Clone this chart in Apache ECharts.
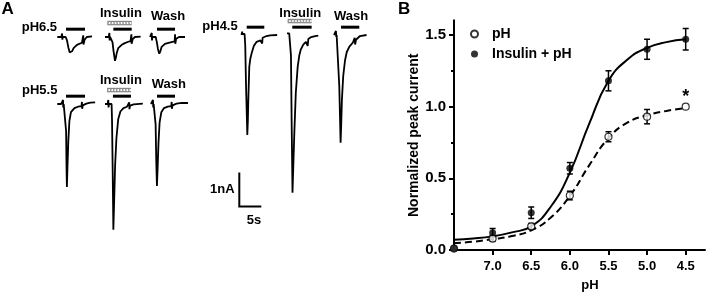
<!DOCTYPE html>
<html>
<head>
<meta charset="utf-8">
<script src="https://cdn.jsdelivr.net/npm/echarts@6/dist/echarts.min.js"></script>
<style>
html,body{margin:0;padding:0;background:#fff}
#chart{width:707px;height:297px}
</style>
</head>
<body>
<div id="chart"></div>
<script>
// ---- panel B: dose response ----
var phTicks = [7.0, 6.5, 6.0, 5.5, 5.0, 4.5];
var phLevels = [7.5, 7.0, 6.5, 6.0, 5.5, 5.0, 4.5];
var phMean  = [0.01, 0.08, 0.165, 0.38, 0.79, 0.93, 1.0];
var phSem   = [0, 0.02, 0.02, 0.03, 0.035, 0.05, 0];
var insMean = [0.01, 0.12, 0.26, 0.57, 1.18, 1.40, 1.47];
var insSem  = [0, 0.03, 0.04, 0.04, 0.07, 0.07, 0.075];
// fitted curves
var fitPh = [7.5, 7.25, 7.0, 6.75, 6.5, 6.25, 6.0, 5.75, 5.5, 5.25, 5.0, 4.75, 4.5];
var fitPhCurve  = [0.047, 0.058, 0.076, 0.097, 0.137, 0.225, 0.377, 0.59, 0.78, 0.89, 0.94, 0.97, 0.99];
var fitInsCurve = [0.072, 0.08, 0.095, 0.123, 0.165, 0.30, 0.54, 0.88, 1.18, 1.33, 1.41, 1.45, 1.47];

// ---- panel A: current traces [time s, current nA] ----
var r65Ctrl = [[0,0],[0.9,0],[1.1,0.1],[1.15,-0.08],[1.25,0],[1.9,0],[2.2,-0.1],[2.5,-0.3],[2.8,-0.45],[3.07,-0.48],[3.35,-0.42],[3.7,-0.33],[4.4,-0.24],[5.0,-0.2],[5.6,-0.17],[5.9,0.05],[5.95,-0.22],[6.2,-0.08],[6.7,0],[7.9,0.02]];
var r65Ins  = [[0,0],[0.85,0],[1.0,0.12],[1.05,-0.1],[1.15,0],[1.5,0],[1.7,-0.15],[1.95,-0.42],[2.27,-0.7],[2.45,-0.62],[2.65,-0.48],[3.0,-0.33],[3.8,-0.23],[4.5,-0.18],[5.3,-0.14],[5.8,-0.12],[6.0,0.08],[6.05,-0.2],[6.3,-0.06],[6.8,0],[8.1,0.01]];
var r65Wash = [[0,0],[0.3,0],[0.4,0.12],[0.45,-0.1],[0.55,0],[1.3,0],[1.55,-0.15],[1.8,-0.35],[2.1,-0.49],[2.35,-0.42],[2.65,-0.29],[3.4,-0.2],[4.2,-0.17],[4.9,-0.15],[5.6,-0.13],[5.7,0.08],[5.75,-0.2],[5.95,-0.05],[6.6,0],[7.95,0]];
var r55Ctrl = [[0,0],[0.9,0],[1.25,0.02],[1.3,0.12],[1.35,-0.1],[1.45,0],[1.9,0],[2.0,-0.8],[2.1,-1.9],[2.18,-2.44],[2.3,-1.9],[2.5,-1.1],[2.75,-0.5],[3.1,-0.24],[3.9,-0.12],[4.7,-0.08],[5.5,-0.06],[5.6,0.06],[5.65,-0.14],[5.8,-0.04],[6.6,0.01],[7.5,0.04],[8.6,0.05]];
var r55Ins  = [[0,0],[0.6,0],[0.75,0.12],[0.8,-0.1],[0.9,0],[1.5,0],[1.6,-0.5],[1.75,-2.0],[1.9,-3.7],[2.05,-3.0],[2.3,-1.8],[2.6,-1.0],[3.0,-0.45],[3.5,-0.22],[4.2,-0.12],[5.0,-0.08],[5.4,-0.06],[5.5,0.05],[5.55,-0.15],[5.7,-0.05],[6.5,-0.01],[8.6,0.01]];
var r55Wash = [[0,0],[0.35,0],[0.45,0.12],[0.5,-0.1],[0.6,0],[0.95,0],[1.05,-0.6],[1.2,-1.7],[1.35,-2.41],[1.5,-1.9],[1.7,-1.15],[1.95,-0.55],[2.35,-0.24],[2.95,-0.12],[3.8,-0.08],[4.6,-0.06],[4.7,0.06],[4.75,-0.14],[4.9,-0.04],[5.8,0.01],[7.0,0.03],[8.4,0.03]];
var r45Ctrl = [[0,0],[0.15,0.1],[0.2,0.03],[0.7,0.03],[0.85,-0.3],[1.05,-1.6],[1.32,-2.94],[1.45,-2.5],[1.55,-1.9],[1.77,-0.93],[2.0,-0.7],[2.3,-0.54],[2.8,-0.32],[3.45,-0.2],[4.3,-0.16],[4.6,-0.15],[4.7,-0.25],[4.8,-0.08],[5.0,-0.12],[5.7,-0.03],[6.5,-0.01],[8.1,0]];
var r45Ins  = [[0,0.05],[0.1,0.08],[0.5,0.05],[0.75,0.02],[0.9,-0.6],[1.05,-2.5],[1.25,-4.64],[1.4,-4.0],[1.66,-2.9],[2.0,-1.7],[2.43,-0.93],[2.8,-0.6],[3.1,-0.44],[3.7,-0.28],[4.3,-0.2],[4.6,-0.19],[4.7,-0.32],[4.85,-0.12],[5.1,-0.15],[5.5,-0.06],[6.4,-0.03],[7.1,-0.02]];
var r45Wash = [[0,0],[0.35,0.02],[0.45,0.12],[0.5,-0.06],[0.6,0],[0.95,-0.05],[1.2,-1.5],[1.5,-3.17],[1.65,-2.6],[1.8,-1.9],[2.1,-1.2],[2.5,-0.75],[2.9,-0.5],[3.5,-0.34],[4.3,-0.22],[4.6,-0.2],[4.7,-0.08],[4.8,-0.28],[5.0,-0.14],[5.9,-0.03],[7.4,0]];

// application windows (s from trace start)
var win65Ctrl = [1.98, 6.3],  win65Ins = [1.9, 6.07], ins65 = [0.52, 6.07], win65Wash = [1.59, 5.68];
var win55Ctrl = [1.98, 6.3],  win55Ins = [1.8, 5.9],  ins55 = [0.45, 5.9],  win55Wash = [1.36, 5.45];
var win45Ctrl = [1.18, 5.18], win45Ins = [1.2, 5.6],  ins45 = [0.16, 5.6],  win45Wash = [1.6, 5.75];

var scaleNA = 1, scaleS = 5;

// ---- layout ----
var FONT = '"Liberation Sans", Arial, sans-serif';
var PX_S = 4.4, PX_NA = 34;
var T_MAX = 10, I_MIN = -5, I_MAX = 0.6;
var BAR_Y = 0.23, INS_Y = 0.41;

var traces = [
  {data: r65Ctrl, left: 57.3, base: 37, win: win65Ctrl},
  {data: r65Ins,  left: 105,  base: 37, win: win65Ins, ins: ins65},
  {data: r65Wash, left: 150,  base: 37, win: win65Wash},
  {data: r55Ctrl, left: 57.3, base: 104, win: win55Ctrl},
  {data: r55Ins,  left: 105,  base: 104, win: win55Ins, ins: ins55},
  {data: r55Wash, left: 151,  base: 104, win: win55Wash},
  {data: r45Ctrl, left: 241.5, base: 35, win: win45Ctrl},
  {data: r45Ins,  left: 287,  base: 35, win: win45Ins, ins: ins45},
  {data: r45Wash, left: 334,  base: 35, win: win45Wash}
];

var grids = [], xAxes = [], yAxes = [], series = [];

function hiddenAxes(i, ymin, ymax) {
  xAxes.push({gridIndex: i, type: 'value', min: 0, max: T_MAX, show: false});
  yAxes.push({gridIndex: i, type: 'value', min: ymin, max: ymax, show: false});
}

traces.forEach(function (tr, i) {
  grids.push({left: tr.left, top: tr.base - I_MAX * PX_NA, width: T_MAX * PX_S, height: (I_MAX - I_MIN) * PX_NA});
  hiddenAxes(i, I_MIN, I_MAX);
  series.push({type: 'line', xAxisIndex: i, yAxisIndex: i, data: tr.data, showSymbol: false, clip: false,
    lineStyle: {color: '#000', width: 1.8}, z: 3, silent: true});
  series.push({type: 'line', xAxisIndex: i, yAxisIndex: i, data: [[tr.win[0], BAR_Y], [tr.win[1], BAR_Y]],
    showSymbol: false, clip: false, lineStyle: {color: '#000', width: 3}, silent: true});
  if (tr.ins) {
    var insLine = [[tr.ins[0], INS_Y], [tr.ins[1], INS_Y]];
    series.push({type: 'line', xAxisIndex: i, yAxisIndex: i, data: insLine, showSymbol: false, clip: false,
      lineStyle: {color: '#888', width: 4.5, cap: 'butt'}, silent: true});
    series.push({type: 'line', xAxisIndex: i, yAxisIndex: i, data: insLine, showSymbol: false, clip: false,
      lineStyle: {color: '#fff', width: 2, cap: 'butt'}, silent: true});
    series.push({type: 'line', xAxisIndex: i, yAxisIndex: i, data: insLine, showSymbol: false, clip: false,
      lineStyle: {color: '#777', width: 1.5, type: [1.5, 1.5], cap: 'butt'}, silent: true});
  }
});

// scale bar grid (same px per s / px per nA as the traces)
var sIdx = traces.length;
var S_MIN = -0.5, S_MAX = 1.2;
grids.push({left: 239.3, top: 206.5 - S_MAX * PX_NA, width: T_MAX * PX_S, height: (S_MAX - S_MIN) * PX_NA});
hiddenAxes(sIdx, S_MIN, S_MAX);
series.push({type: 'line', xAxisIndex: sIdx, yAxisIndex: sIdx, data: [[0, scaleNA], [0, 0], [scaleS, 0]],
  showSymbol: false, clip: false, lineStyle: {color: '#000', width: 2, join: 'miter'}, silent: true});

// panel B grid
var bIdx = sIdx + 1;
grids.push({left: 454, right: 2, top: 20.6, bottom: 46});
var axisColor = '#000';
xAxes.push({
  gridIndex: bIdx, type: 'value', min: 4.25, max: 7.5, inverse: true,
  name: 'pH', nameLocation: 'middle', nameGap: 29,
  nameTextStyle: {fontFamily: FONT, fontWeight: 'bold', fontSize: 13, color: '#000', padding: [0, 0, 0, 21]},
  axisLine: {lineStyle: {color: axisColor, width: 2}},
  axisTick: {customValues: phTicks, length: 5, lineStyle: {color: axisColor, width: 2}},
  axisLabel: {customValues: phTicks, margin: 10, fontFamily: FONT, fontWeight: 'bold', fontSize: 13, color: '#000',
    formatter: function (v) { return v.toFixed(1); }},
  splitLine: {show: false}
});
yAxes.push({
  gridIndex: bIdx, type: 'value', min: 0, max: 1.6,
  name: 'Normalized peak current', nameLocation: 'middle', nameGap: 28,
  nameTextStyle: {fontFamily: FONT, fontWeight: 'bold', fontSize: 14, color: '#000'},
  axisLine: {lineStyle: {color: axisColor, width: 2}},
  axisTick: {customValues: [0, 0.5, 1.0, 1.5], length: 5, lineStyle: {color: axisColor, width: 2}},
  axisLabel: {customValues: [0, 0.5, 1.0, 1.5], margin: 8, fontFamily: FONT, fontWeight: 'bold', fontSize: 15, color: '#000',
    formatter: function (v) { return v.toFixed(1); }},
  splitLine: {show: false}
});
// minor ticks
yAxes.push({
  gridIndex: bIdx, type: 'value', min: 0, max: 1.6, position: 'left',
  axisLine: {lineStyle: {color: axisColor, width: 2}},
  axisTick: {customValues: [0.25, 0.75, 1.25], length: 3, lineStyle: {color: axisColor, width: 2}},
  axisLabel: {show: false}, splitLine: {show: false}
});

function zip(a, b) { return a.map(function (v, i) { return [v, b[i]]; }); }
function errData(mean, sem) {
  var out = [];
  phLevels.forEach(function (x, i) { if (sem[i] > 0) out.push([x, mean[i] - sem[i], mean[i] + sem[i]]); });
  return out;
}
function renderErr(params, api) {
  var x = api.value(0);
  var lo = api.coord([x, api.value(1)]), hi = api.coord([x, api.value(2)]);
  var w = 3, st = {stroke: '#000', lineWidth: 1.5};
  return {type: 'group', children: [
    {type: 'line', shape: {x1: lo[0], y1: lo[1], x2: hi[0], y2: hi[1]}, style: st},
    {type: 'line', shape: {x1: lo[0] - w, y1: lo[1], x2: lo[0] + w, y2: lo[1]}, style: st},
    {type: 'line', shape: {x1: hi[0] - w, y1: hi[1], x2: hi[0] + w, y2: hi[1]}, style: st}
  ]};
}

series.push(
  {type: 'line', xAxisIndex: bIdx, yAxisIndex: bIdx, data: zip(fitPh, fitInsCurve), smooth: true, showSymbol: false,
    lineStyle: {color: '#000', width: 2}, z: 3, silent: true},
  {type: 'line', xAxisIndex: bIdx, yAxisIndex: bIdx, data: zip(fitPh, fitPhCurve), smooth: true, showSymbol: false,
    lineStyle: {color: '#000', width: 2, type: [7, 4]}, z: 3, silent: true},
  {type: 'custom', xAxisIndex: bIdx, yAxisIndex: bIdx, data: errData(phMean, phSem), renderItem: renderErr,
    encode: {x: 0, y: [1, 2]}, z: 4, silent: true},
  {type: 'custom', xAxisIndex: bIdx, yAxisIndex: bIdx, data: errData(insMean, insSem), renderItem: renderErr,
    encode: {x: 0, y: [1, 2]}, z: 4, silent: true},
  {name: 'pH', type: 'scatter', xAxisIndex: bIdx, yAxisIndex: bIdx, data: zip(phLevels, phMean),
    symbol: 'circle', symbolSize: 7, clip: false, z: 5,
    itemStyle: {color: '#fff', borderColor: '#000', borderWidth: 1.2},
    markPoint: {symbol: 'circle', symbolSize: 0, silent: true,
      data: [{coord: [4.5, 1.0]}],
      label: {show: true, formatter: '*', offset: [0, -10], fontFamily: FONT, fontWeight: 'bold', fontSize: 18, color: '#000'}}},
  {name: 'Insulin + pH', type: 'scatter', xAxisIndex: bIdx, yAxisIndex: bIdx, data: zip(phLevels, insMean),
    symbol: 'circle', symbolSize: 7, clip: false, z: 6, itemStyle: {color: '#000'}}
);

var labels = [
  ['A', 1.5, 9.5, 17], ['B', 398, 9, 17],
  ['pH6.5', 21.7, 27, 13], ['Insulin', 100, 13.5, 13], ['Wash', 151, 16.7, 13],
  ['pH4.5', 202.3, 26, 13], ['Insulin', 279.3, 13, 13], ['Wash', 334, 16.7, 13],
  ['pH5.5', 22, 90.5, 13], ['Insulin', 100, 80.2, 13], ['Wash', 151.7, 84.7, 13],
  ['1nA', 210, 189, 13], ['5s', 246.7, 220, 13]
];

var chart = echarts.init(document.getElementById('chart'), null, {renderer: 'canvas'});
chart.setOption({
  animation: false,
  backgroundColor: '#fff',
  grid: grids,
  xAxis: xAxes,
  yAxis: yAxes,
  legend: {
    data: ['pH', 'Insulin + pH'], orient: 'vertical', left: 465, top: 22,
    itemWidth: 7, itemHeight: 7, itemGap: 6, selectedMode: false,
    textStyle: {fontFamily: FONT, fontWeight: 'bold', fontSize: 14, color: '#000', padding: [0, 0, 0, 9]}
  },
  graphic: labels.map(function (l) {
    return {type: 'text', x: l[1], y: l[2], silent: true,
      style: {text: l[0], fill: '#000', fontFamily: FONT, fontWeight: 'bold', fontSize: l[3], verticalAlign: 'middle'}};
  }),
  series: series
});
</script>
</body>
</html>
